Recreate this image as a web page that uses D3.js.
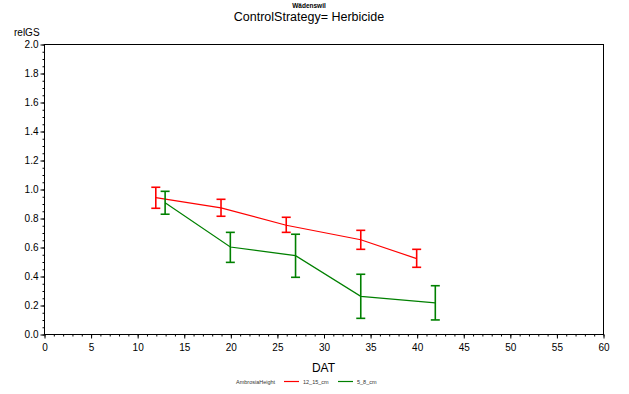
<!DOCTYPE html>
<html>
<head>
<meta charset="utf-8">
<script src="https://cdn.jsdelivr.net/npm/d3@7"></script>
<style>
  body { margin: 0; background: #fff; }
  svg { font-family: "Liberation Sans", Arial, sans-serif; }
</style>
</head>
<body>
<svg id="chart" width="629" height="394"></svg>
<script>
const seriesNames = ['12_15_cm', '5_8_cm']
const seriesColors = ['#ff0000', '#008000']
const dat = [
    [12, 19, 26, 34, 40],
    [13, 20, 27, 34, 42]
]
const mean = [
    [0.94, 0.87, 0.75, 0.65, 0.52],
    [0.905, 0.60, 0.54, 0.26, 0.215]
]
const upper = [
    [1.012, 0.929, 0.805, 0.715, 0.584],
    [0.984, 0.701, 0.688, 0.412, 0.333]
]
const lower = [
    [0.867, 0.812, 0.701, 0.584, 0.460],
    [0.826, 0.494, 0.391, 0.108, 0.097]
]
const xTicks = d3.range(0, 61, 5)
const yTicks = d3.range(0, 2.01, 0.2)

const svg = d3.select('#chart')
const margin = ({ top: 44, right: 26, bottom: 60, left: 44 })
const width = 629, height = 394

const x = d3.scaleLinear()
    .domain([0, 60])
    .range([margin.left, width - margin.right])
const y = d3.scaleLinear()
    .domain([0, 2])
    .range([height - margin.bottom, margin.top])

// frame
svg.append('rect')
    .attr('x', x(0) + 0.5)
    .attr('y', y(2) + 0.5)
    .attr('width', x(60) - x(0))
    .attr('height', y(0) - y(2))
    .attr('fill', 'none')
    .attr('stroke', '#000')
    .attr('stroke-width', 1)

const xAxis = g => g
    .attr('transform', `translate(0.5,${y(0) + 0.5})`)
    .call(d3.axisBottom(x).tickValues(xTicks).tickSize(4).tickPadding(5).tickFormat(d3.format('d')))
    .call(g => g.select('.domain').remove())
const xMinor = g => g
    .attr('transform', `translate(0.5,${y(0) + 0.5})`)
    .call(d3.axisBottom(x).tickValues(d3.range(0, 61, 1)).tickSize(2).tickFormat(''))
    .call(g => g.select('.domain').remove())
const yAxis = g => g
    .attr('transform', `translate(${x(0) + 0.5},0.5)`)
    .call(d3.axisLeft(y).tickValues(yTicks).tickSize(4).tickPadding(2).tickFormat(d3.format('.1f')))
    .call(g => g.select('.domain').remove())
const yMinor = g => g
    .attr('transform', `translate(${x(0) + 0.5},0.5)`)
    .call(d3.axisLeft(y).tickValues(d3.range(0, 2.001, 0.05)).tickSize(2).tickFormat(''))
    .call(g => g.select('.domain').remove())

svg.append('g').call(xMinor)
svg.append('g').call(yMinor)
svg.append('g').attr('class', 'x-axis').call(xAxis)
svg.append('g').attr('class', 'y-axis').call(yAxis)
svg.selectAll('.x-axis text, .y-axis text')
    .attr('font-size', 10)
    .attr('font-family', '"Liberation Sans", Arial, sans-serif')
    .attr('fill', '#000')

const line = d3.line()
    .x(d => x(d[0]))
    .y(d => y(d[1]))

seriesNames.forEach((name, i) => {
    const pts = dat[i].map((d, j) => [d, mean[i][j], upper[i][j], lower[i][j]])
    svg.append('path')
        .datum(pts)
        .attr('fill', 'none')
        .attr('stroke', seriesColors[i])
        .attr('stroke-width', 1.2)
        .attr('d', line)

    const bars = svg.append('g')
        .attr('stroke', seriesColors[i])
        .attr('stroke-width', 1.6)
        .attr('fill', 'none')
    bars.selectAll('.stem')
        .data(pts)
        .join('line')
        .attr('x1', d => x(d[0]))
        .attr('x2', d => x(d[0]))
        .attr('y1', d => y(d[2]))
        .attr('y2', d => y(d[3]))
    bars.selectAll('.cap-top')
        .data(pts)
        .join('line')
        .attr('x1', d => x(d[0]) - 4.5)
        .attr('x2', d => x(d[0]) + 4.5)
        .attr('y1', d => y(d[2]))
        .attr('y2', d => y(d[2]))
    bars.selectAll('.cap-bottom')
        .data(pts)
        .join('line')
        .attr('x1', d => x(d[0]) - 4.5)
        .attr('x2', d => x(d[0]) + 4.5)
        .attr('y1', d => y(d[3]))
        .attr('y2', d => y(d[3]))
})

// titles
svg.append('text')
    .attr('x', 309).attr('y', 8)
    .attr('text-anchor', 'middle')
    .attr('font-size', 6.5)
    .attr('font-weight', 'bold')
    .text('Wädenswil')
svg.append('text')
    .attr('x', 309).attr('y', 21)
    .attr('text-anchor', 'middle')
    .attr('font-size', 12.5)
    .text('ControlStrategy= Herbicide')
svg.append('text')
    .attr('x', 14).attr('y', 36)
    .attr('font-size', 10)
    .text('relGS')
svg.append('text')
    .attr('x', (x(0) + x(60)) / 2).attr('y', 372)
    .attr('text-anchor', 'middle')
    .attr('font-size', 12)
    .text('DAT')

// legend
const legend = svg.append('g').attr('font-size', 5.5)
legend.append('text')
    .attr('x', 236).attr('y', 384)
    .attr('fill', '#333')
    .text('AmbrosiaHeight')
const legendX = [284, 338]
seriesNames.forEach((name, i) => {
    legend.append('line')
        .attr('x1', legendX[i]).attr('x2', legendX[i] + 15)
        .attr('y1', 381.5).attr('y2', 381.5)
        .attr('stroke', seriesColors[i])
        .attr('stroke-width', 1.2)
    legend.append('text')
        .attr('x', legendX[i] + 19).attr('y', 384)
        .attr('fill', '#333')
        .text(name)
})
</script>
</body>
</html>
